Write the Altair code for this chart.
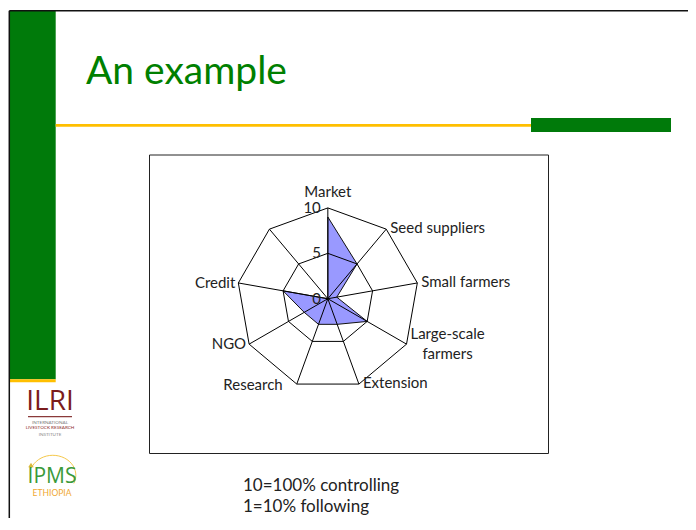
import altair as alt
import numpy as np
import pandas as pd

# ---------------- data ----------------
categories = ["Market", "Seed suppliers", "Small farmers", "Large-scale farmers",
              "Extension", "Research", "NGO", "Credit", ""]
values = [9, 5, 1, 5, 3, 3, 3, 5, 0]
ring_levels = [5, 10]
tick_values = [0, 5, 10]
tick_labels = ["0", "5", "10"]
title_text = "An example"
note_lines = ["10=100% controlling", "1=10% following"]
ilri_lines = ["INTERNATIONAL", "LIVESTOCK RESEARCH", "INSTITUTE"]

# ---------------- layout ----------------
W, H = 680, 510
OFF = 8                      # page margin
PX = 9.1                     # pixels per radar unit
CX, CY = 328.3 - OFF, 299.3 - OFF   # radar centre (chart pixels)
FONT = "Lato"
xs = alt.Scale(domain=[-CX / PX, (W - CX) / PX], nice=False, zero=False)
ys = alt.Scale(domain=[-(H - CY) / PX, CY / PX], nice=False, zero=False)

n = len(categories)
ang = np.arange(n) * 2 * np.pi / n
s, c = np.sin(ang), np.cos(ang)

one = pd.DataFrame({"k": [0]})


def X(f="x"):
    return alt.X(f"{f}:Q", scale=xs, axis=None)


def Y(f="y"):
    return alt.Y(f"{f}:Q", scale=ys, axis=None)


def prect(x1, y1, x2, y2, color, **kw):
    return alt.Chart(one).mark_rect(color=color, **kw).encode(
        x=alt.value(x1 - OFF), x2=alt.value(x2 - OFF),
        y=alt.value(y1 - OFF), y2=alt.value(y2 - OFF))


def prule(x1, y1, x2, y2, color, w=1):
    return alt.Chart(one).mark_rule(color=color, strokeWidth=w).encode(
        x=alt.value(x1 - OFF), x2=alt.value(x2 - OFF),
        y=alt.value(y1 - OFF), y2=alt.value(y2 - OFF))


def ptext(txt, x, y, size, color, align="left", baseline="alphabetic", font=FONT, **kw):
    return alt.Chart(one).mark_text(text=txt, fontSize=size, color=color, align=align,
                                    baseline=baseline, font=font, **kw).encode(
        x=alt.value(x - OFF), y=alt.value(y - OFF))


# ---------------- radar ----------------
poly = pd.DataFrame({"i": range(n), "x": np.array(values) * s, "y": np.array(values) * c})
rings = pd.DataFrame([{"level": L, "i": i, "x": L * s[i], "y": L * c[i]}
                      for L in ring_levels for i in range(n)])
spokes = pd.DataFrame({"x": np.zeros(n), "y": np.zeros(n), "x2": 10 * s, "y2": 10 * c})

poly_layer = alt.Chart(poly).mark_line(
    interpolate="linear-closed", fill="#9999FF", stroke="#111111", strokeWidth=1
).encode(x=X(), y=Y(), order="i:Q")

ring_layer = alt.Chart(rings).mark_line(
    interpolate="linear-closed", color="black", strokeWidth=1
).encode(x=X(), y=Y(), detail="level:N", order="i:Q")

spoke_layer = alt.Chart(spokes).mark_rule(color="black", strokeWidth=1).encode(
    x=X(), y=Y(), x2="x2:Q", y2="y2:Q")

ticks = pd.DataFrame({"x": 0.0, "y": tick_values, "t": tick_labels})
tick_layer = alt.Chart(ticks).mark_text(
    align="right", baseline="middle", dx=-7, fontSize=15, font=FONT, color="#222"
).encode(x=X(), y=Y(), text="t:N")

lab = pd.DataFrame({"cat": categories, "x": 10 * s, "y": 10 * c, "sin": s})
lab = lab[lab["cat"] != ""]
lab_top = lab[np.abs(lab["sin"]) < 0.1]
lab_left = lab[(lab["sin"] > 0.1) & (lab["cat"] != "Large-scale farmers")]
lab_two = lab[lab["cat"] == "Large-scale farmers"].copy()
lab_two["cat"] = lab_two["cat"].str.replace(" farmers", "\nfarmers")
lab_right = lab[(lab["sin"] < -0.1) & (lab["cat"] != "Research")]
lab_res = lab[lab["cat"] == "Research"]

lab_kw = dict(fontSize=15, font=FONT, color="#222", baseline="middle")
top_layer = alt.Chart(lab_top).mark_text(align="center", dy=-16, **lab_kw).encode(
    x=X(), y=Y(), text="cat:N")
left_layer = alt.Chart(lab_left).mark_text(align="left", dx=4, dy=-1, **lab_kw).encode(
    x=X(), y=Y(), text="cat:N")
two_layer = alt.Chart(lab_two).mark_text(align="center", dx=41, dy=-17, lineBreak="\n",
                                         lineHeight=20, **{**lab_kw, "baseline": "top"}).encode(
    x=X(), y=Y(), text="cat:N")
right_layer = alt.Chart(lab_right).mark_text(align="right", dx=-3, dy=0, **lab_kw).encode(
    x=X(), y=Y(), text="cat:N")
res_layer = alt.Chart(lab_res).mark_text(align="right", dx=-14, dy=1, **lab_kw).encode(
    x=X(), y=Y(), text="cat:N")

# ---------------- slide decoration ----------------
deco = [
    prect(10, 11, 55.7, 379.3, "#007A0A"),
    prect(10, 379.3, 55.7, 382.3, "#FFBF00"),
    prect(55.7, 124, 531, 126.7, "#FFBF00"),
    prect(531, 118, 671, 132, "#007A0A"),
    prule(9.3, 10.7, W + OFF, 10.7, "#111", 1.5),
    prule(9.3, 10.7, 9.3, H + OFF, "#111", 1.5),
    prect(149.5, 155, 548.5, 453.5, "white", stroke="#222", strokeWidth=1),
    ptext(title_text, 86, 83.5, 39, "#008000"),
    ptext(note_lines[0], 243, 485.5, 17, "#222", baseline="middle"),
    ptext(note_lines[1], 243, 507, 17, "#222", baseline="middle"),
    # ILRI logo
    ptext("ILRI", 50, 410, 28, "#7B1C1C", align="center", font="Open Sans"),
    prule(28, 416.7, 72, 416.7, "#8A3A3A", 1.2),
    ptext(ilri_lines[0], 50, 423, 4.6, "#777", align="center", baseline="middle"),
    ptext(ilri_lines[1], 50, 428, 4.6, "#8A2A2A", align="center", baseline="middle"),
    ptext(ilri_lines[2], 50, 435, 4.6, "#888", align="center", baseline="middle"),
    # IPMS logo
    alt.Chart(one).mark_point(shape="M -0.94 -0.3 A 1 0.87 0 1 1 0.906 0.368",
                              filled=False, stroke="#F5C84A", strokeWidth=1,
                              size=2116, opacity=1).encode(
        x=alt.value(53 - OFF), y=alt.value(475 - OFF)),
    alt.Chart(one).mark_point(shape="triangle-up", filled=True, color="#D9B93A",
                              size=30, opacity=1).encode(
        x=alt.value(31 - OFF), y=alt.value(465 - OFF)),
    ptext("IPMS", 52, 483, 21, "#3A9A3A", align="center", font="Open Sans"),
    ptext("ETHIOPIA", 52, 492.5, 8.5, "#F0A830", align="center", baseline="middle"),
]

chart = alt.layer(
    *deco, poly_layer, ring_layer, spoke_layer, tick_layer,
    top_layer, left_layer, two_layer, right_layer, res_layer
).properties(
    width=W, height=H, padding=0, background="white",
    autosize=alt.AutoSizeParams(type="fit", contains="padding"),
).configure_view(stroke=None)

chart.save("out.html", embed_options={"renderer": "svg", "actions": False})
